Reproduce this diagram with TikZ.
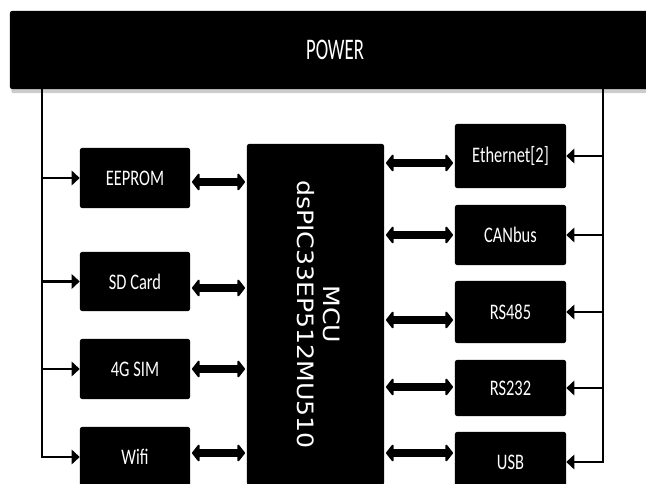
\documentclass[tikz,border=0pt]{standalone}
\usepackage{fontspec}
\usepackage{graphicx}
\usetikzlibrary{arrows.meta,shadows}
\newfontfamily\carlito{Carlito}
\newfontfamily\dejavu{DejaVu Sans}
% labels in the reference are drawn a bit taller than wide
\newcommand{\vlab}[2][1.35]{\scalebox{1}[#1]{#2}}

\begin{document}
\begin{tikzpicture}[x=0.025cm, y=-0.025cm,
          blk/.style={fill=black, text=white, rounded corners=1.5pt, inner sep=0pt,
            font=\carlito\fontsize{11.7}{14}\selectfont},
          lbox/.style={blk, minimum width=2.75cm, minimum height=1.5cm},
          rbox/.style={blk, minimum width=2.775cm, minimum height=1.5cm},
          pw/.style={-{Triangle[length=2mm, width=3.6mm]}, line width=1.7pt},
          dbl/.style={{Triangle[length=2mm, width=5mm, round]}-{Triangle[length=2mm, width=5mm, round]},
            line width=5pt, shorten <=1.2pt, shorten >=1.2pt}]
        \useasboundingbox (0,0) rectangle (646,484);
        \clip (0,0) rectangle (646,484);
        % power rail
        \node[blk, minimum width=16.25cm, minimum height=1.95cm,
          font=\carlito\fontsize{13.3}{15}\selectfont,
          drop shadow={shadow xshift=1pt, shadow yshift=-3pt, opacity=0.4}]
          (power) at (335,50) {\vlab[1.6]{POWER}};
        % controller
        \node[blk, minimum width=3.425cm, minimum height=8.525cm,
          font=\dejavu\fontsize{16}{18}\selectfont] (mcu) at (315.5,314.5)
          {\rotatebox{-90}{\scalebox{1.12}[1]{\begin{tabular}{@{}c@{}}MCU\\dsPIC33EP512MU510\end{tabular}}}};
        % left side
        \node[lbox] (eeprom) at (135,178) {\vlab{EEPROM}};
        \node[lbox, minimum height=1.475cm] (sd) at (135,281.5) {\vlab{SD Card}};
        \node[lbox] (sim) at (135,369) {\vlab{4G SIM}};
        \node[lbox] (wifi) at (135,457) {\vlab{Wifi}};
        % right side
        \node[rbox, minimum height=1.6cm] (eth) at (510.5,156) {\vlab{Ethernet[2]}};
        \node[rbox] (can) at (510.5,235) {\vlab{CANbus}};
        \node[rbox, minimum height=1.55cm] (rs485) at (510.5,312) {\vlab{RS485}};
        \node[rbox, minimum height=1.4cm] (rs232) at (510.5,388) {\vlab{RS232}};
        \node[rbox] (usb) at (510.5,462) {\vlab{USB}};
        % supply lines
        \coordinate (pl) at (42,89);
        \coordinate (pr) at (603,89);
        \draw[pw] (pl) |- (wifi.west);
        \draw[pw] (eeprom.west -| pl) -- (eeprom.west);
        \draw[pw] (sd.west -| pl) -- (sd.west);
        \draw[pw] (sim.west -| pl) -- (sim.west);
        \draw[pw] (pr) |- (usb.east);
        \draw[pw] (eth.east -| pr) -- (eth.east);
        \draw[pw] (can.east -| pr) -- (can.east);
        \draw[pw] (rs485.east -| pr) -- (rs485.east);
        \draw[pw] (rs232.east -| pr) -- (rs232.east);
        % data links
        \draw[dbl] (eeprom.east |- 0,182) -- (mcu.west |- 0,182);
        \draw[dbl] (sd.east |- 0,288) -- (mcu.west |- 0,288);
        \draw[dbl] (sim.east) -- (sim.east -| mcu.west);
        \draw[dbl] (wifi.east |- 0,453) -- (mcu.west |- 0,453);
        \draw[dbl] (mcu.east |- 0,163) -- (eth.west |- 0,163);
        \draw[dbl] (mcu.east |- 0,235) -- (can.west |- 0,235);
        \draw[dbl] (mcu.east |- 0,320) -- (rs485.west |- 0,320);
        \draw[dbl] (mcu.east |- 0,387) -- (rs232.west |- 0,387);
        \draw[dbl] (mcu.east |- 0,453) -- (usb.west |- 0,453);
      \end{tikzpicture}
\end{document}
